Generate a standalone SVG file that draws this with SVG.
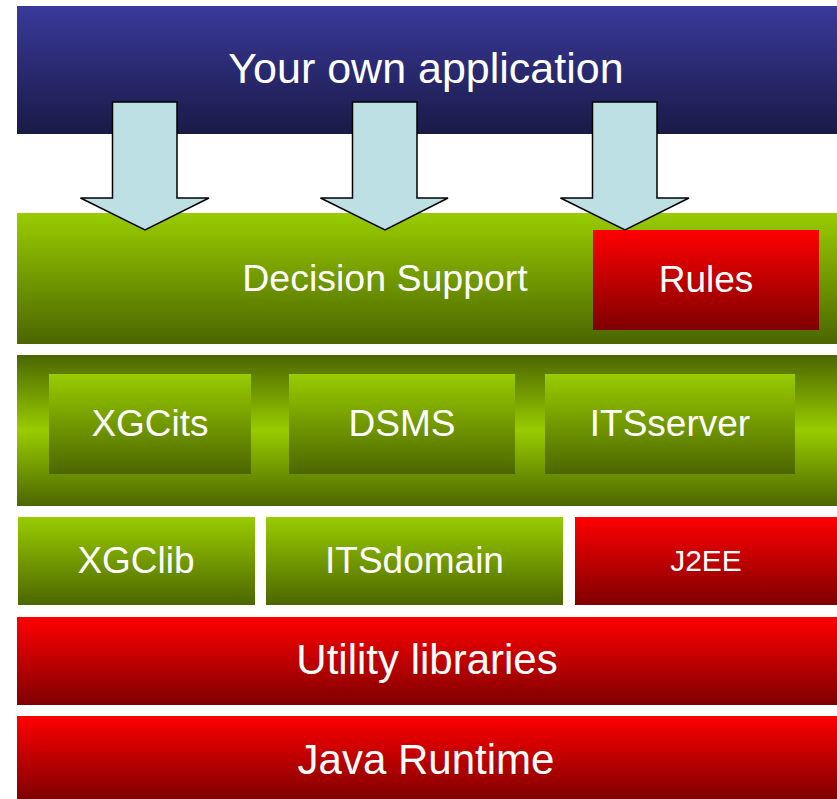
<svg xmlns="http://www.w3.org/2000/svg" width="837" height="799" viewBox="0 0 837 799">
<defs>
<linearGradient id="gBlue" x1="0" y1="0" x2="0" y2="1"><stop offset="0" stop-color="#39399b"/><stop offset="1" stop-color="#1a1a47"/></linearGradient>
<linearGradient id="gGreen" x1="0" y1="0" x2="0" y2="1"><stop offset="0" stop-color="#99cc00"/><stop offset="1" stop-color="#4b6600"/></linearGradient>
<linearGradient id="gGreenMid" x1="0" y1="0" x2="0" y2="1"><stop offset="0" stop-color="#4b6600"/><stop offset="0.5" stop-color="#99cc00"/><stop offset="1" stop-color="#4b6600"/></linearGradient>
<linearGradient id="gRed" x1="0" y1="0" x2="0" y2="1"><stop offset="0" stop-color="#ff0000"/><stop offset="1" stop-color="#7f0000"/></linearGradient>
</defs>
<style>
text{font-family:"Liberation Sans",Arial,sans-serif;fill:#ffffff;text-anchor:middle}
.arrow{fill:#bce0e4;stroke:#000000;stroke-width:1.5;stroke-linejoin:miter}
</style>
<rect width="837" height="799" fill="#ffffff"/>
<g id="app"><rect x="17" y="6" width="820" height="128" fill="url(#gBlue)"/><text x="426" y="83" font-size="43">Your own application</text></g>
<g id="decision"><rect x="17" y="213" width="820" height="131" fill="url(#gGreen)"/><text x="385" y="291" font-size="37.5">Decision Support</text></g>
<g id="rules"><rect x="593" y="230" width="226" height="100" fill="url(#gRed)"/><text x="706" y="292" font-size="37">Rules</text></g>
<g id="services"><rect x="17" y="355" width="820" height="151" fill="url(#gGreenMid)"/></g>
<g id="xgcits"><rect x="49" y="374" width="202" height="100" fill="url(#gGreen)"/><text x="150" y="436" font-size="37">XGCits</text></g>
<g id="dsms"><rect x="289" y="374" width="226" height="100" fill="url(#gGreen)"/><text x="402" y="436" font-size="37">DSMS</text></g>
<g id="itsserver"><rect x="545" y="374" width="250" height="100" fill="url(#gGreen)"/><text x="670" y="436" font-size="37">ITSserver</text></g>
<g id="xgclib"><rect x="18" y="517" width="237" height="88" fill="url(#gGreen)"/><text x="136" y="573" font-size="37">XGClib</text></g>
<g id="itsdomain"><rect x="266" y="517" width="297" height="88" fill="url(#gGreen)"/><text x="414.5" y="573" font-size="37">ITSdomain</text></g>
<g id="j2ee"><rect x="575" y="517" width="262" height="88" fill="url(#gRed)"/><text x="706" y="571" font-size="30">J2EE</text></g>
<g id="utility"><rect x="17" y="617" width="820" height="88" fill="url(#gRed)"/><text x="427" y="674" font-size="42">Utility libraries</text></g>
<g id="java"><rect x="17" y="716" width="820" height="83" fill="url(#gRed)"/><text x="426" y="774" font-size="42">Java Runtime</text></g>
<g id="connectors">
<polygon class="arrow" points="112.5,102 177,102 177,198 209,198 145,230 80.5,198 112.5,198"/>
<polygon class="arrow" points="352.5,102 417,102 417,198 448,198 385,230 320.5,198 352.5,198"/>
<polygon class="arrow" points="592.5,102 657,102 657,198 689,198 625,230 560.5,198 592.5,198"/>
</g>
</svg>
